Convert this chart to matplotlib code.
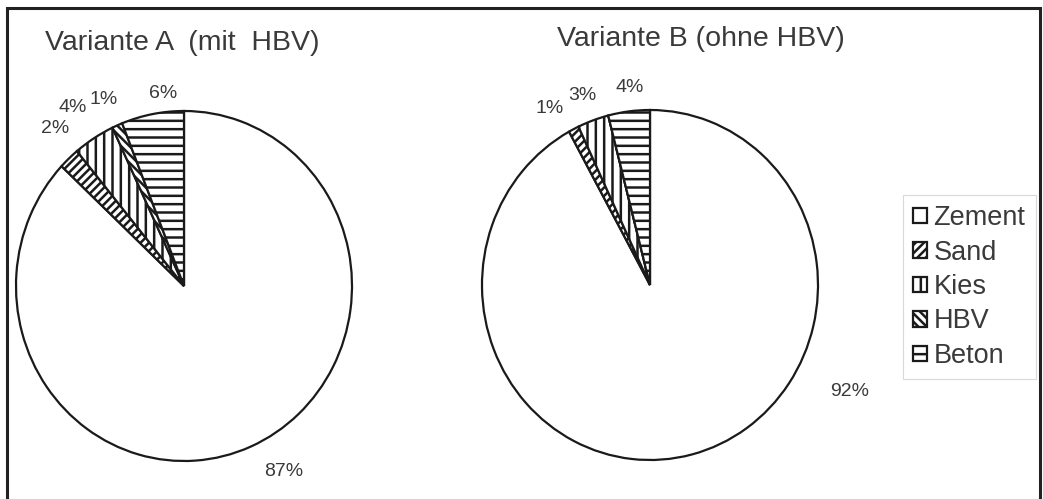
import matplotlib
matplotlib.use("Agg")
import matplotlib.pyplot as plt
import numpy as np
from matplotlib.patches import Rectangle

plt.rcParams['font.family'] = ['Liberation Sans', 'DejaVu Sans']
plt.rcParams['hatch.linewidth'] = 1.8

categories = ["Zement", "Sand", "Kies", "HBV", "Beton"]
values_a = [87, 2, 4, 1, 6]
values_b = [92, 1, 3, 0, 4]
title_a = "Variante A  (mit  HBV)"
title_b = "Variante B (ohne HBV)"

hatches = ["", "////", "||", "\\\\\\\\", "--"]

# label placement (axes data units, pie radius = 1)
label_pos_a = [(0.595, -1.06), (-0.77, 0.90), (-0.665, 1.02), (-0.48, 1.065), (-0.125, 1.10)]
label_pos_b = [(1.19, -0.61), (-0.60, 1.01), (-0.40, 1.08), None, (-0.12, 1.13)]

W, H = 1043, 499
fig = plt.figure(figsize=(W / 100, H / 100), dpi=100)
fig.patch.set_facecolor("white")

# outer frame
fig.add_artist(Rectangle((7 / W, -0.05), (1040 - 7) / W, (H - 8) / H + 0.05,
                         transform=fig.transFigure, fill=False, lw=2.2,
                         edgecolor="#222222"))

RX, RY = 168, 175
TXT = "#3a3a3a"


def make_pie(cx, cy, vals, title, tx, ty, label_pos):
    ax = fig.add_axes([(cx - RX) / W, (H - cy - RY) / H, 2 * RX / W, 2 * RY / H])
    wedges, _ = ax.pie(vals, startangle=90, counterclock=False, radius=1,
                       colors=["white"] * len(vals),
                       wedgeprops=dict(edgecolor="#1a1a1a", linewidth=1.6))
    for w, h in zip(wedges, hatches):
        w.set_hatch(h)
    ax.set_aspect("auto")
    ax.set_xlim(-1, 1)
    ax.set_ylim(-1, 1)
    ax.axis("off")
    for w, v, pos in zip(wedges, vals, label_pos):
        if v == 0 or pos is None:
            continue
        ax.text(pos[0], pos[1], f"{v}%", ha="center", va="center", fontsize=14,
                color=TXT, clip_on=False)
    fig.text(tx / W, 1 - ty / H, title, ha="left", va="center",
             fontsize=20.5, color=TXT)
    return wedges


wa = make_pie(184, 286, values_a, title_a, 45, 43, label_pos_a)
wb = make_pie(650, 285, values_b, title_b, 557, 39, label_pos_b)

leg = fig.legend(wa, categories, loc="upper left",
                 bbox_to_anchor=(903 / W, 1 - 195 / H),
                 fontsize=19.5, frameon=True, fancybox=False,
                 handlelength=0.5, handleheight=0.5, handletextpad=0.25,
                 labelspacing=0.31, borderpad=0.38, borderaxespad=0)
leg.get_frame().set_edgecolor("#d0d0d0")
leg.get_frame().set_linewidth(0.8)
for t in leg.get_texts():
    t.set_color(TXT)

fig.savefig("out.png", dpi=100, facecolor="white")
